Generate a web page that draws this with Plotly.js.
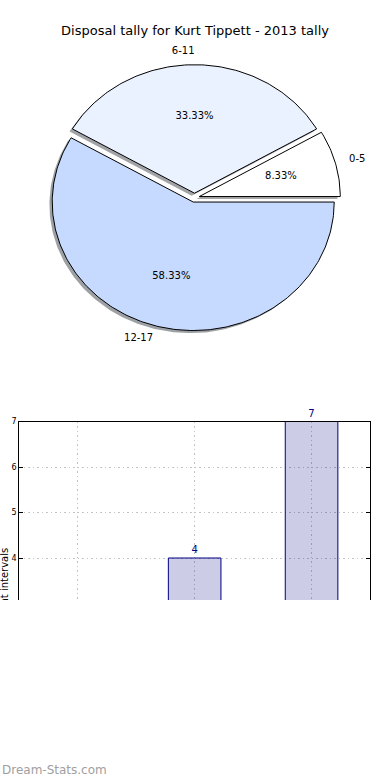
<!DOCTYPE html>
<html><head><meta charset="utf-8">
<script src="https://cdn.plot.ly/plotly-3.0.1.min.js"></script>
<style>
html,body{margin:0;padding:0;background:#fff;}
#wrap{position:relative;width:390px;height:780px;overflow:hidden;background:#fff;}
#top{position:absolute;left:0;top:0;width:390px;height:600px;overflow:hidden;}
#bottom{position:absolute;left:0;top:600px;width:390px;height:180px;overflow:hidden;}
</style></head><body>
<div id="wrap"><div id="top"></div><div id="bottom"></div></div>
<script>
// ---- data ----
const chartTitle = 'Disposal tally for Kurt Tippett - 2013 tally';
const categories = ['0-5', '6-11', '12-17'];
const values = [1, 4, 7];
const pieColors = ['#ffffff', '#eaf1ff', '#c6d9fe'];
const yTitle = 'Count intervals';
const watermark = 'Dream-Stats.com';

// ---- pie geometry (unit radius in data space) ----
const explode = 0.035;
const shadowOff = 0.02;
const total = values.reduce((a, b) => a + b, 0);

function wedge(cx, cy, t1, t2) {
  const xs = [cx], ys = [cy];
  const n = Math.max(4, Math.ceil(t2 - t1));
  for (let i = 0; i <= n; i++) {
    const t = (t1 + (t2 - t1) * i / n) * Math.PI / 180;
    xs.push(cx + Math.cos(t)); ys.push(cy + Math.sin(t));
  }
  xs.push(cx); ys.push(cy);
  return {xs, ys};
}
function hexToRgb(h) {
  const n = parseInt(h.slice(1), 16);
  return [(n >> 16) & 255, (n >> 8) & 255, n & 255];
}

const shadowTraces = [], wedgeTraces = [];
const labX = [], labY = [], labPos = [], pctX = [], pctY = [], pctText = [];
let theta = 0;
values.forEach((v, i) => {
  const t1 = theta, t2 = theta + 360 * v / total;
  const mid = (t1 + t2) / 2 * Math.PI / 180;
  const cx = explode * Math.cos(mid), cy = explode * Math.sin(mid);
  const w = wedge(cx, cy, t1, t2);
  const rgb = hexToRgb(pieColors[i]).map(c => Math.round(c * 0.3));
  shadowTraces.push({
    type: 'scatter', mode: 'lines', xaxis: 'x2', yaxis: 'y2',
    x: w.xs.map(x => x - shadowOff), y: w.ys.map(y => y - shadowOff),
    fill: 'toself', fillcolor: `rgba(${rgb[0]},${rgb[1]},${rgb[2]},0.5)`,
    line: {width: 0, color: 'rgba(0,0,0,0)'}, hoverinfo: 'skip'
  });
  wedgeTraces.push({
    type: 'scatter', mode: 'lines', xaxis: 'x2', yaxis: 'y2',
    x: w.xs, y: w.ys, fill: 'toself', fillcolor: pieColors[i],
    line: {width: 1, color: '#000'}, hoverinfo: 'skip'
  });
  const lx = cx + 1.1 * Math.cos(mid), ly = cy + 1.1 * Math.sin(mid);
  labX.push(lx); labY.push(ly);
  labPos.push(lx > 0.001 ? 'middle right' : 'middle left');
  pctX.push(cx + 0.6 * Math.cos(mid)); pctY.push(cy + 0.6 * Math.sin(mid));
  pctText.push((v / total * 100).toFixed(2) + '%');
  theta = t2;
});

const labelTrace = {
  type: 'scatter', mode: 'text', xaxis: 'x2', yaxis: 'y2',
  x: labX, y: labY, text: categories, textposition: labPos,
  textfont: {size: 10, color: '#000', family: 'DejaVu Sans'}, hoverinfo: 'skip', cliponaxis: false
};
const pctTrace = {
  type: 'scatter', mode: 'text', xaxis: 'x2', yaxis: 'y2',
  x: pctX, y: pctY, text: pctText, textposition: 'middle center',
  textfont: {size: 10, color: '#000', family: 'DejaVu Sans'}, hoverinfo: 'skip', cliponaxis: false
};

const barTrace = {
  type: 'bar', x: categories, y: values, width: 0.45,
  marker: {color: 'rgba(0,0,128,0.2)', line: {color: '#000080', width: 1}},
  text: values.map(String), textposition: 'outside',
  textfont: {color: '#000080', size: 10, family: 'DejaVu Sans'},
  cliponaxis: false, hoverinfo: 'skip'
};

const H = 600;
const gridStyle = {showgrid: true, gridcolor: '#c4c4c4', griddash: '1.5px,3px', gridwidth: 1};
const layoutA = {
  width: 390, height: H, margin: {l: 0, r: 0, t: 0, b: 0},
  paper_bgcolor: '#fff', plot_bgcolor: 'rgba(0,0,0,0)',
  showlegend: false, hovermode: false,
  font: {family: 'DejaVu Sans', color: '#000'},
  title: {text: chartTitle, x: 0.5, xanchor: 'center', xref: 'paper',
          y: 1 - 30 / H, yanchor: 'middle', yref: 'container', font: {size: 13, color: '#000'}},
  xaxis: Object.assign({domain: [19.3 / 390, 370 / 390], range: [-0.5, 2.5], type: 'category', anchor: 'y',
          side: 'top', showline: true, linecolor: '#000', linewidth: 1,
          showticklabels: false, ticks: '', zeroline: false, fixedrange: true}, gridStyle),
  yaxis: Object.assign({domain: [0, 1 - 421.5 / H], range: [3.077, 7], anchor: 'x',
          showline: true, mirror: 'ticks', linecolor: '#000', linewidth: 1,
          ticks: 'inside', ticklen: 4, tickcolor: '#000', tick0: 0, dtick: 1,
          tickfont: {size: 8, color: '#000'}, zeroline: false, fixedrange: true}, gridStyle),
  xaxis2: {domain: [0, 1], range: [-194.5 / 141, 195.5 / 141], anchor: 'y2', visible: false, fixedrange: true},
  yaxis2: {domain: [1 - 380 / H, 1], range: [-(380 - 197.7) / 128.5, 197.7 / 128.5], anchor: 'x2', visible: false, fixedrange: true},
  annotations: [{
    text: yTitle, textangle: -90, xref: 'paper', yref: 'paper',
    x: 4 / 390, y: 1 - 546 / H, xanchor: 'center', yanchor: 'top',
    showarrow: false, font: {size: 10, color: '#000', family: 'DejaVu Sans'}
  }]
};

Plotly.newPlot('top', [...shadowTraces, ...wedgeTraces, labelTrace, pctTrace, barTrace], layoutA,
  {displayModeBar: false, staticPlot: true});

const layoutB = {
  width: 390, height: 180, margin: {l: 0, r: 0, t: 0, b: 0},
  paper_bgcolor: '#fff', plot_bgcolor: '#fff', showlegend: false, hovermode: false,
  xaxis: {visible: false}, yaxis: {visible: false},
  annotations: [{
    text: watermark, xref: 'paper', yref: 'paper', x: 0, y: 1 - 170 / 180,
    xanchor: 'left', yanchor: 'middle', showarrow: false,
    font: {size: 12, color: '#a0a0a0', family: 'DejaVu Sans'}
  }]
};
Plotly.newPlot('bottom', [], layoutB, {displayModeBar: false, staticPlot: true});
</script>
</body></html>
